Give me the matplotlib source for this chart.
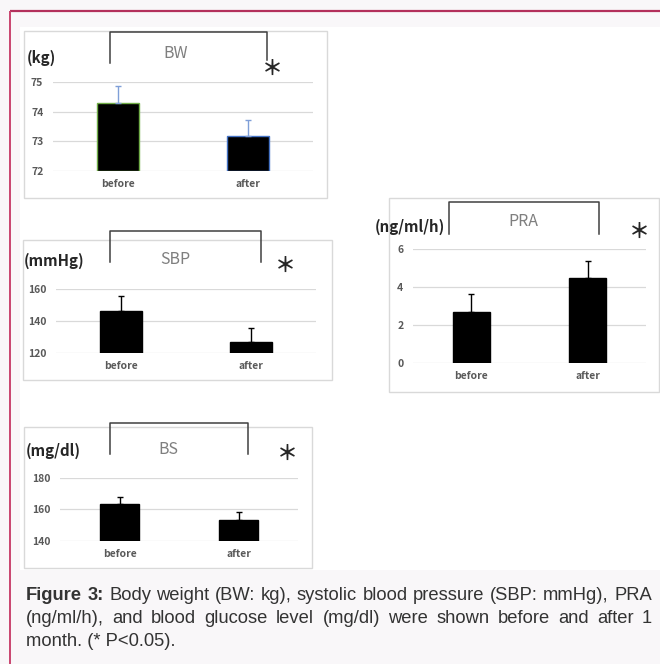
import matplotlib
matplotlib.use('Agg')
import matplotlib.pyplot as plt
import numpy as np

# valores
categories = ['before', 'after']

bw_mean = [74.3, 73.19]
bw_err = [0.55, 0.53]
sbp_mean = [146.4, 126.7]
sbp_err = [9.0, 8.7]
pra_mean = [2.69, 4.49]
pra_err = [0.94, 0.89]
bs_mean = [163.3, 153.2]
bs_err = [4.8, 5.1]

bw_ticks = [72, 73, 74, 75]
sbp_ticks = [120, 140, 160]
pra_ticks = [0, 2, 4, 6]
bs_ticks = [140, 160, 180]

caption_lines = [
    'Figure 3: Body weight (BW: kg), systolic blood pressure (SBP: mmHg), PRA',
    '(ng/ml/h), and blood glucose level (mg/dl) were shown before and after 1',
    'month. (* P<0.05).',
]

W, H = 660, 664
CJK = ['Noto Sans CJK JP', 'DejaVu Sans']

fig = plt.figure(figsize=(W / 100, H / 100), dpi=100)
fig.patch.set_facecolor('#f9f7f9')

# eje de fondo en coordenadas de pixel
bg = fig.add_axes([0, 0, 1, 1], zorder=0)
bg.set_xlim(0, W)
bg.set_ylim(H, 0)
bg.axis('off')

# borde granate y zona blanca
bg.plot([9.5, W], [10.8, 10.8], color='#b3305c', lw=1.6, solid_capstyle='butt')
bg.plot([9.5, 9.5], [10.8, H], color='#c9456f', lw=1.4, solid_capstyle='butt')
bg.add_patch(plt.Rectangle((20, 27), W - 20, 543, facecolor='white', edgecolor='none'))


def add_panel(mean, err, ticks, title, unit, edgecolors, ecolor, ax_px, box_px, br_px, title_xy, unit_xy, star_xy):
    # caja gris del panel
    bx0, bx1, by0, by1 = box_px
    bg.add_patch(plt.Rectangle((bx0, by0), bx1 - bx0, by1 - by0, facecolor='white',
                               edgecolor='#d9d9d9', lw=1))
    # corchete
    xl, xr, yt, ybl, ybr = br_px
    bg.plot([xl, xl, xr, xr], [ybl, yt, yt, ybr], color='#404040', lw=1.1)
    bg.text(title_xy[0], title_xy[1], title, ha='center', va='center', fontsize=11.5,
            color='#7f7f7f', family=CJK)
    bg.text(unit_xy[0], unit_xy[1], unit, ha='left', va='center', fontsize=10.8,
            fontweight='bold', color='#262626', family=CJK)
    bg.text(star_xy[0], star_xy[1], '＊', ha='center', va='center', fontsize=15,
            fontweight='bold', color='#262626', family=CJK)

    x0, x1, yt, yb = ax_px
    ax = fig.add_axes([x0 / W, 1 - yb / H, (x1 - x0) / W, (yb - yt) / H], zorder=1)
    ax.set_facecolor('none')
    x = np.arange(len(categories))
    ax.bar(x, np.array(mean) - ticks[0], bottom=ticks[0], width=0.32, color='black',
           edgecolor=edgecolors, linewidth=1, zorder=2)
    ax.errorbar(x, mean, yerr=[np.zeros(len(err)), err], fmt='none', ecolor=ecolor,
                elinewidth=1, capsize=2.5, capthick=1, zorder=3)
    ax.set_xlim(-0.5, 1.5)
    ax.set_ylim(ticks[0], ticks[-1])
    ax.set_yticks(ticks)
    ax.set_xticks(x)
    ax.set_xticklabels(categories)
    ax.grid(axis='y', color='#d9d9d9', lw=0.9)
    ax.set_axisbelow(True)
    for s in ax.spines.values():
        s.set_visible(False)
    ax.tick_params(length=0, labelsize=7.5, labelcolor='#595959')
    ax.tick_params(axis='y', pad=7)
    ax.tick_params(axis='x', pad=6)
    for lab in ax.get_xticklabels() + ax.get_yticklabels():
        lab.set_fontweight('bold')
        lab.set_family(CJK)
    return ax


add_panel(bw_mean, bw_err, bw_ticks, 'BW', '(kg)', ['#70ad47', '#4472c4'], '#7f9fd8',
          (53, 313, 82, 171), (24, 327, 31, 198), (110, 267, 31.7, 63, 60),
          (176, 54), (27, 58), (272, 68))
add_panel(sbp_mean, sbp_err, sbp_ticks, 'SBP', '(mmHg)', 'black', 'black',
          (56, 316, 289, 353), (23, 332, 240, 380), (110, 261, 231, 262, 262),
          (175, 260), (24, 261), (285, 265))
add_panel(pra_mean, pra_err, pra_ticks, 'PRA', '(ng/ml/h)', 'black', 'black',
          (413, 646, 249, 362.7), (389, 659, 198, 392), (449, 599, 202, 234, 234),
          (523, 221), (375, 227), (639, 231))
add_panel(bs_mean, bs_err, bs_ticks, 'BS', '(mg/dl)', 'black', 'black',
          (60, 298, 478, 540.7), (24, 312, 427, 568), (110, 248, 423, 454, 454),
          (168, 450), (26, 451), (287, 453))

# texto del pie justificado
renderer = fig.canvas.get_renderer()
cap_x0, cap_x1 = 26, 652
cap_y = [600, 623, 646]
fs = 13.2
for i, line in enumerate(caption_lines):
    words = line.split(' ')
    weights = ['bold' if (i == 0 and j < 2) else 'normal' for j in range(len(words))]
    if i == len(caption_lines) - 1:
        bg.text(cap_x0, cap_y[i], line, ha='left', va='baseline', fontsize=fs,
                color='#333333', family='Liberation Sans')
        continue
    texts = []
    widths = []
    for w, fw in zip(words, weights):
        t = bg.text(0, cap_y[i], w, ha='left', va='baseline', fontsize=fs,
                    fontweight=fw, color='#333333', family='Liberation Sans')
        texts.append(t)
        widths.append(t.get_window_extent(renderer).width)
    gap = (cap_x1 - cap_x0 - sum(widths)) / (len(words) - 1)
    xpos = cap_x0
    for t, wd in zip(texts, widths):
        t.set_x(xpos)
        xpos += wd + gap

fig.savefig('out.png', dpi=100, facecolor=fig.get_facecolor())
